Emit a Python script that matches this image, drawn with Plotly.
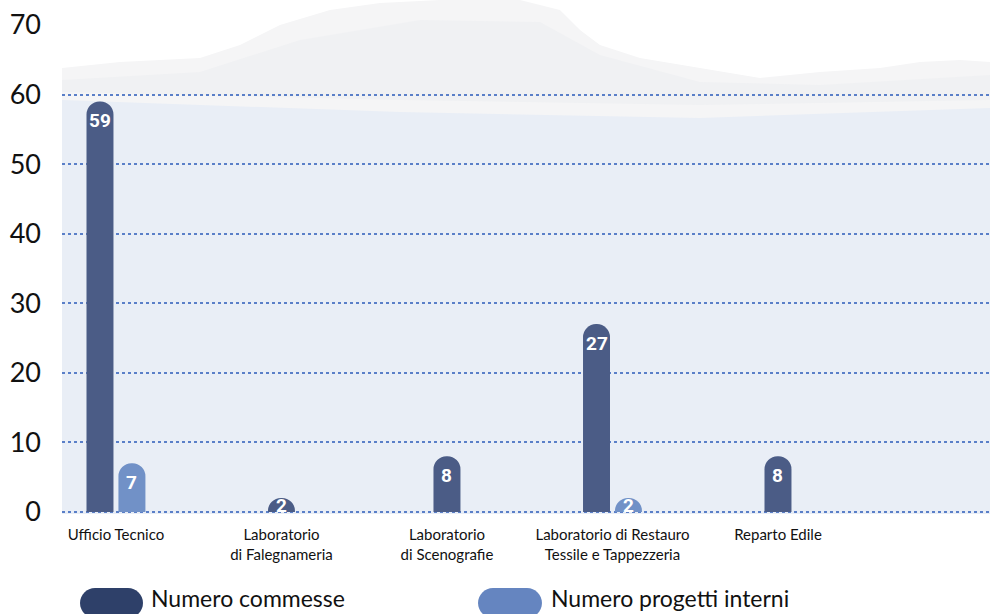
import plotly.graph_objects as go

categories = ["Ufficio Tecnico", "Laboratorio<br>di Falegnameria", "Laboratorio<br>di Scenografie",
              "Laboratorio di Restauro<br>Tessile e Tappezzeria", "Reparto Edile"]
commesse = [59, 2, 8, 27, 8]
progetti = [7, None, None, 2, None]
series_names = ["Numero commesse", "Numero progetti interni"]
y_ticks = [0, 10, 20, 30, 40, 50, 60, 70]

W, H = 990, 614
L, R, T, B = 62, 990, 25, 514
Y0, Y1 = -0.3, 70
PPU = (B - T) / (Y1 - Y0)  # pixels per y unit
def px2paper(px, py):
    return (px - L) / (R - L), (B - py) / (B - T)

C_DARK = "#4b5c86"
C_LIGHT = "#7191c7"
LEG_DARK = "#2e4069"
LEG_LIGHT = "#6585c0"
GRID = "#5a7fc8"

xi = list(range(len(categories)))
bw = 0.163
gap = 0.03
off_c = [-(bw + gap / 2) if p is not None else -bw / 2 for p in progetti]
off_p = [gap / 2 if p is not None else 0 for p in progetti]

fig = go.Figure()
fig.add_trace(go.Bar(
    x=xi, y=commesse, name=series_names[0], width=bw, offset=off_c,
    marker=dict(color=C_DARK, cornerradius="50%", line=dict(width=0)),
    showlegend=False, hoverinfo="skip"))
fig.add_trace(go.Bar(
    x=xi, y=progetti, name=series_names[1], width=bw, offset=off_p,
    marker=dict(color=C_LIGHT, cornerradius="50%", line=dict(width=0)),
    showlegend=False, hoverinfo="skip"))

annotations = []
lab_font = dict(family="Roboto", size=19, color="white", weight=700)
for vals, offs in [(commesse, off_c), (progetti, off_p)]:
    for i, o, v in zip(xi, offs, vals):
        if v is None:
            continue
        shift = -min(19.0, 2 + v * PPU * 0.4)
        annotations.append(dict(xref="x", yref="y", x=i + o + bw / 2, y=v, text=str(v),
                                showarrow=False, xanchor="center", yanchor="middle",
                                yshift=shift, font=lab_font))

shapes = []
# light blue background
x0, y0 = px2paper(62, 95)
x1, y1 = px2paper(990, 514)
shapes.append(dict(type="rect", xref="paper", yref="paper", x0=x0, x1=x1, y0=y1, y1=y0,
                   fillcolor="#e9eef6", line=dict(width=0), layer="below"))
# snowy ridge decoration
ridge = [(62, 68), (120, 62), (200, 58), (240, 45), (280, 25), (330, 10), (380, 3), (440, 0),
         (520, 0), (560, 10), (580, 30), (600, 45), (640, 58), (700, 68), (760, 78), (820, 72),
         (880, 68), (920, 62), (960, 60), (990, 62)]
pts = ridge + [(990, 108), (700, 118), (400, 112), (62, 100)]
path = "M " + " L ".join("%.4f,%.4f" % px2paper(a, b) for a, b in pts) + " Z"
shapes.append(dict(type="path", xref="paper", yref="paper", path=path,
                   fillcolor="#f5f5f6", line=dict(width=0), layer="below"))
inner = [(62, 80), (200, 72), (300, 40), (420, 20), (540, 22), (600, 55), (700, 82), (820, 85),
         (990, 75), (990, 100), (700, 105), (400, 100), (62, 92)]
path2 = "M " + " L ".join("%.4f,%.4f" % px2paper(a, b) for a, b in inner) + " Z"
shapes.append(dict(type="path", xref="paper", yref="paper", path=path2,
                   fillcolor="#f0f1f3", line=dict(width=0), layer="below"))

# legend pills
def pill(xa, xb, ya, yb):
    r = (yb - ya) / 2
    k = 0.5523 * r
    segs = [
        ("M", [(xa + r, ya)]),
        ("L", [(xb - r, ya)]),
        ("C", [(xb - r + k, ya), (xb, ya + r - k), (xb, ya + r)]),
        ("C", [(xb, ya + r + k), (xb - r + k, yb), (xb - r, yb)]),
        ("L", [(xa + r, yb)]),
        ("C", [(xa + r - k, yb), (xa, ya + r + k), (xa, ya + r)]),
        ("C", [(xa, ya + r - k), (xa + r - k, ya), (xa + r, ya)]),
    ]
    s = ""
    for cmd, ps in segs:
        s += cmd + " " + " ".join("%.4f,%.4f" % px2paper(a, b) for a, b in ps) + " "
    return s + "Z"

for (xa, xb, col, tx, name) in [(80, 143, LEG_DARK, 149, series_names[0]),
                                (478, 542, LEG_LIGHT, 549, series_names[1])]:
    shapes.append(dict(type="path", xref="paper", yref="paper", path=pill(xa, xb, 588, 618),
                       fillcolor=col, line=dict(width=0), layer="above"))
    ax, ay = px2paper(tx, 598)
    annotations.append(dict(xref="paper", yref="paper", x=ax, y=ay, xanchor="left", yanchor="middle",
                            text=name, showarrow=False,
                            font=dict(family="Lato", size=23, color="#111111")))

fig.update_layout(
    width=W, height=H,
    margin=dict(l=L, r=W - R, t=T, b=H - B, pad=0),
    paper_bgcolor="white", plot_bgcolor="white",
    shapes=shapes, annotations=annotations, showlegend=False,
    font=dict(family="Lato", color="#111111"),
    xaxis=dict(range=[-0.326, 5.281], tickvals=xi, ticktext=categories, showgrid=False,
               zeroline=False, showline=False, ticks="",
               tickfont=dict(family="Lato", size=15, color="#111111"), ticklabelstandoff=10),
    yaxis=dict(range=[Y0, Y1], tickvals=y_ticks, showgrid=True, gridcolor=GRID, griddash="dot",
               gridwidth=2, zeroline=False, showline=False, ticks="",
               tickfont=dict(family="Lato", size=27, color="#111111"), ticklabelstandoff=20),
)

fig.write_html("out.html", config={"displayModeBar": False},
               post_script="document.body.style.margin='0';document.body.style.overflow='hidden';")
